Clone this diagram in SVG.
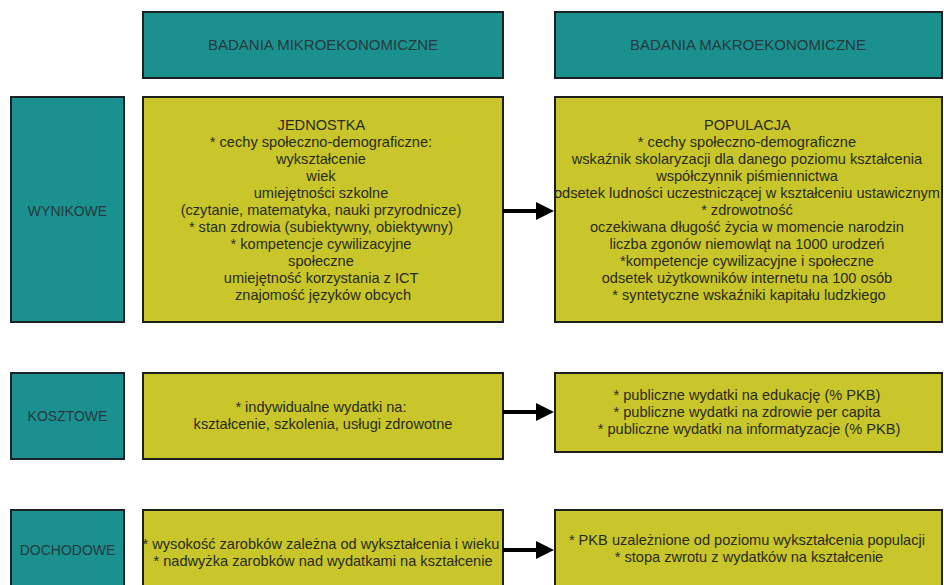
<svg xmlns="http://www.w3.org/2000/svg" width="944" height="585" viewBox="0 0 944 585">
<defs>
<style>
.teal{fill:#1b918f;stroke:#1a2226;stroke-width:2}
.yel{fill:#c8c62b;stroke:#1f1f1a;stroke-width:2}
text{font-family:"Liberation Sans",Arial,sans-serif;text-anchor:middle}
.h{font-size:15px;fill:#263a3e}
.l{font-size:14px;fill:#263a3e}
.b{font-size:14.6px;fill:#2a2a22}
.conn{stroke:#000;stroke-width:4;fill:none}
</style>
<marker id="ah" viewBox="0 0 18 18" refX="1" refY="9" markerWidth="18" markerHeight="18" markerUnits="userSpaceOnUse" orient="auto">
<path d="M0,0 L18,9 L0,18 Z" fill="#000"/>
</marker>
</defs>
<rect width="944" height="585" fill="#ffffff"/>

<g id="header-mikro">
<rect class="teal" x="143" y="12" width="360" height="66"/>
<text class="h" x="323" y="50">BADANIA MIKROEKONOMICZNE</text>
</g>
<g id="header-makro">
<rect class="teal" x="555" y="12" width="387" height="66"/>
<text class="h" x="748" y="50">BADANIA MAKROEKONOMICZNE</text>
</g>

<g id="label-wynikowe">
<rect class="teal" x="11" y="97" width="113" height="225"/>
<text class="l" x="67.5" y="216">WYNIKOWE</text>
</g>
<g id="mikro-wynikowe">
<rect class="yel" x="143" y="97" width="360" height="225"/>
<text class="b" x="323">
<tspan x="323" y="130">JEDNOSTKA</tspan>
<tspan x="323" y="147">* cechy społeczno-demograficzne:</tspan>
<tspan x="323" y="164">wykształcenie</tspan>
<tspan x="323" y="181">wiek</tspan>
<tspan x="323" y="198">umiejętności szkolne</tspan>
<tspan x="323" y="215">(czytanie, matematyka, nauki przyrodnicze)</tspan>
<tspan x="323" y="232">* stan zdrowia (subiektywny, obiektywny)</tspan>
<tspan x="323" y="249">* kompetencje cywilizacyjne</tspan>
<tspan x="323" y="266">społeczne</tspan>
<tspan x="323" y="283">umiejętność korzystania z ICT</tspan>
<tspan x="323" y="300">znajomość języków obcych</tspan>
</text>
</g>
<g id="makro-wynikowe">
<rect class="yel" x="555" y="97" width="387" height="225"/>
<text class="b" x="749">
<tspan x="749" y="130">POPULACJA</tspan>
<tspan x="749" y="147">* cechy społeczno-demograficzne</tspan>
<tspan x="749" y="164">wskaźnik skolaryzacji dla danego poziomu kształcenia</tspan>
<tspan x="749" y="181">współczynnik piśmiennictwa</tspan>
<tspan x="749" y="198">odsetek ludności uczestniczącej w kształceniu ustawicznym</tspan>
<tspan x="749" y="215">* zdrowotność</tspan>
<tspan x="749" y="232">oczekiwana długość życia w momencie narodzin</tspan>
<tspan x="749" y="249">liczba zgonów niemowląt na 1000 urodzeń</tspan>
<tspan x="749" y="266">*kompetencje cywilizacyjne i społeczne</tspan>
<tspan x="749" y="283">odsetek użytkowników internetu na 100 osób</tspan>
<tspan x="749" y="300">* syntetyczne wskaźniki kapitału ludzkiego</tspan>
</text>
</g>

<g id="label-kosztowe">
<rect class="teal" x="11" y="373" width="113" height="86"/>
<text class="l" x="67.5" y="421">KOSZTOWE</text>
</g>
<g id="mikro-kosztowe">
<rect class="yel" x="143" y="373" width="360" height="86"/>
<text class="b">
<tspan x="323" y="412">* indywidualne wydatki na:</tspan>
<tspan x="323" y="429">kształcenie, szkolenia, usługi zdrowotne</tspan>
</text>
</g>
<g id="makro-kosztowe">
<rect class="yel" x="555" y="373" width="387" height="79"/>
<text class="b">
<tspan x="749" y="400">* publiczne wydatki na edukację (% PKB)</tspan>
<tspan x="749" y="417">* publiczne wydatki na zdrowie per capita</tspan>
<tspan x="749" y="434">* publiczne wydatki na informatyzacje (% PKB)</tspan>
</text>
</g>

<g id="label-dochodowe">
<rect class="teal" x="11" y="510" width="113" height="90"/>
<text class="l" x="67.5" y="555">DOCHODOWE</text>
</g>
<g id="mikro-dochodowe">
<rect class="yel" x="143" y="510" width="360" height="90"/>
<text class="b">
<tspan x="323" y="549">* wysokość zarobków zależna od wykształcenia i wieku</tspan>
<tspan x="323" y="566">* nadwyżka zarobków nad wydatkami na kształcenie</tspan>
</text>
</g>
<g id="makro-dochodowe">
<rect class="yel" x="555" y="510" width="387" height="90"/>
<text class="b">
<tspan x="749" y="545">* PKB uzależnione od poziomu wykształcenia populacji</tspan>
<tspan x="749" y="562">* stopa zwrotu z wydatków na kształcenie</tspan>
</text>
</g>

<g id="connectors">
<line class="conn" x1="503" y1="211" x2="537" y2="211" marker-end="url(#ah)"/>
<line class="conn" x1="503" y1="412" x2="537" y2="412" marker-end="url(#ah)"/>
<line class="conn" x1="503" y1="550" x2="537" y2="550" marker-end="url(#ah)"/>
</g>
</svg>
